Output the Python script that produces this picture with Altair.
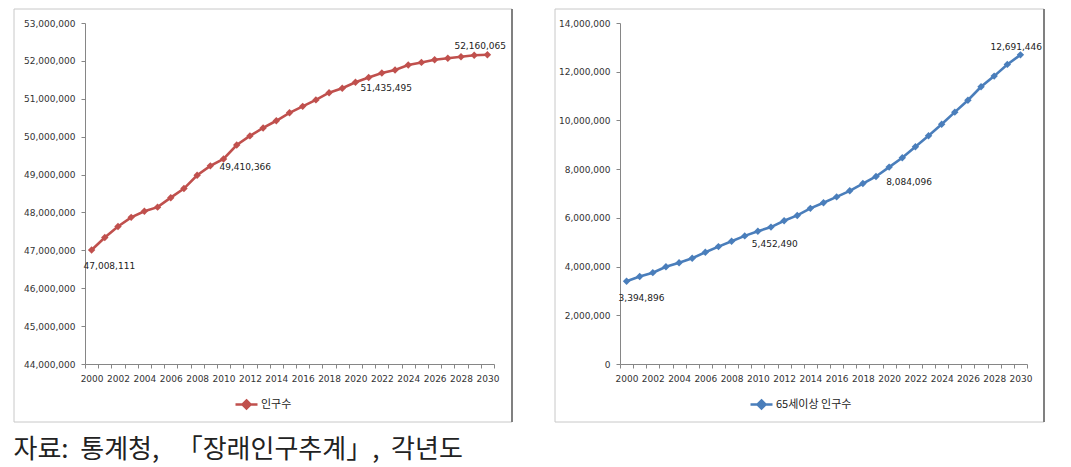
import altair as alt
import pandas as pd

years = list(range(2000, 2031))
total_pop = [47008111, 47340000, 47630000, 47870000, 48030000, 48140000, 48390000,
             48630000, 48980000, 49230000, 49410366, 49780000, 50020000, 50230000,
             50420000, 50630000, 50800000, 50970000, 51160000, 51280000, 51435495,
             51560000, 51680000, 51760000, 51890000, 51960000, 52030000, 52070000,
             52110000, 52150000, 52160065]
elderly_pop = [3394896, 3590000, 3750000, 3990000, 4160000, 4340000, 4590000,
               4820000, 5040000, 5260000, 5452490, 5620000, 5880000, 6100000,
               6390000, 6620000, 6860000, 7110000, 7410000, 7700000, 8084096,
               8470000, 8920000, 9370000, 9840000, 10340000, 10830000, 11380000,
               11820000, 12300000, 12691446]
labeled_years = [2000, 2010, 2020, 2030]
series_names = ["인구수", "65세이상 인구수"]
colors = ["#C0504D", "#4A7EBB"]
left_ticks = list(range(44000000, 53000001, 1000000))
right_ticks = list(range(0, 14000001, 2000000))
caption = "자료:\u00a0 통계청,\u00a0\u00a0 「장래인구추계」,\u00a0 각년도"

FONT = "DejaVu Sans"
AX = "#868686"
LBL = "#333333"
LEG_PATH = "M-2.75,0L2.75,0M0,-1L1,0L0,1L-1,0Z"


def panel(values, name, color, ydom, yticks, width, frame, label_offsets, legend_xy):
    df = pd.DataFrame({"year": years, "value": values, "series": name})
    df["label"] = df["value"].map(lambda v: f"{v:,}")
    x = alt.X("year:Q",
              scale=alt.Scale(domain=[1999.5, 2030.5], nice=False, zero=False),
              axis=alt.Axis(values=[1999.5 + i for i in range(32)],
                            labelExpr="(datum.value + 0.5) % 2 == 0 && datum.value < 2030 ? format(datum.value + 0.5, 'd') : ''",
                            labelOffset=width / 31 / 2, labelOverlap=False,
                            labelFlush=False,
                            grid=False, title=None, tickSize=4, labelPadding=6,
                            domainColor=AX, tickColor=AX, labelColor=LBL,
                            labelFont=FONT, labelFontSize=9))
    y = alt.Y("value:Q", scale=alt.Scale(domain=ydom, nice=False, zero=False),
              axis=alt.Axis(values=yticks, format=",d", grid=False, title=None,
                            tickSize=4, labelPadding=6, domainColor=AX, tickColor=AX,
                            labelColor=LBL, labelFont=FONT, labelFontSize=9))
    base = alt.Chart(df)
    line = base.mark_line(strokeWidth=2.6, color=color).encode(x=x, y=y)
    pts = base.mark_point(shape="diamond", filled=True, size=55, opacity=1).encode(
        x=x, y=y,
        color=alt.Color("series:N", scale=alt.Scale(domain=[name], range=[color]),
                        legend=alt.Legend(title=None, orient="none",
                                          legendX=legend_xy[0], legendY=legend_xy[1],
                                          symbolType=LEG_PATH, symbolSize=64,
                                          symbolStrokeColor=color, symbolFillColor=color,
                                          symbolStrokeWidth=2.5, labelOffset=9,
                                          labelFont="Noto Sans CJK KR", labelFontSize=11,
                                          labelColor="#222222", padding=0)))
    layers = []
    fx0, fx1, fy0, fy1 = frame
    fr = pd.DataFrame({"k": [0]})
    layers.append(alt.Chart(fr).mark_rect(filled=False, stroke="#C8C8C8", strokeWidth=1).encode(
        x=alt.value(fx0), x2=alt.value(fx1), y=alt.value(fy0), y2=alt.value(fy1)))
    layers.append(alt.Chart(fr).mark_rule(color="#808080", strokeWidth=2).encode(
        x=alt.value(fx1), y=alt.value(fy0), y2=alt.value(fy1)))
    layers += [line, pts]
    for yr, (dx, dy) in zip(labeled_years, label_offsets):
        layers.append(base.transform_filter(alt.datum.year == yr).mark_text(
            align="left", baseline="middle", dx=dx, dy=dy, font=FONT, fontSize=9,
            color="#222222").encode(x=x, y=y, text="label:N"))
    return alt.layer(*layers).properties(width=width, height=341)


left = panel(total_pop, series_names[0], colors[0], [44000000, 53000000], left_ticks, 409,
             (-71, 427, -14, 399),
             [(-8, 16), (-4, 8), (5, 6), (-33, -9)], (156, 376))
right = panel(elderly_pop, series_names[1], colors[1], [0, 14000000], right_ticks, 407,
              (-65, 424, -14, 399),
              [(-8, 17), (-6, 13), (-3, 15), (-30, -8)], (136, 376))

chart = alt.hconcat(left, right, spacing=41).resolve_scale(color="independent").resolve_legend(
    color="independent").properties(
    padding={"left": 5, "top": 0, "right": 5, "bottom": 4},
    title=alt.TitleParams(caption, orient="bottom", anchor="start",
                          font="Noto Sans CJK KR", fontSize=26, fontWeight="normal",
                          color="#222222", offset=14)
).configure_view(stroke=None)

chart.save("out.html", embed_options={"renderer": "svg", "actions": False})
